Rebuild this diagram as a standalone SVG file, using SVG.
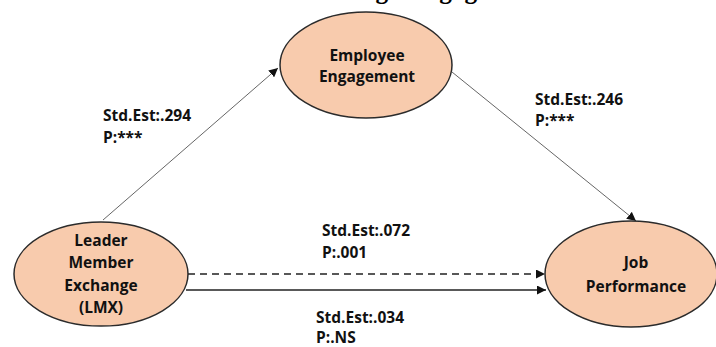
<svg xmlns="http://www.w3.org/2000/svg" width="716" height="347" viewBox="0 0 716 347">
<style>
.node{fill:#F8CBAD;stroke:#2b2b2b;stroke-width:1.5}
.nt{font-family:"Open Sans","Liberation Sans",sans-serif;font-weight:700;font-size:15.5px;fill:#111;text-anchor:middle}
.lb{font-family:"Open Sans","Liberation Sans",sans-serif;font-weight:700;font-size:15.5px;fill:#111}
.thin{stroke:#666;stroke-width:1;fill:none}
.thick{stroke:#222;stroke-width:1.5;fill:none}
.title{font-family:"Liberation Serif",serif;font-weight:700;font-size:26px;fill:#000}
</style>
<defs>
<marker id="ah" viewBox="0 0 10 10" refX="10" refY="5" markerWidth="9" markerHeight="9" markerUnits="userSpaceOnUse" orient="auto">
<path d="M0,0 L10,5 L0,10 z" fill="#111"/>
</marker>
</defs>
<rect width="716" height="347" fill="#fff"/>
<text class="title" x="15" y="-1" textLength="528" lengthAdjust="spacingAndGlyphs">Job Performance Mediated through Engagement</text>
<g id="connectors">
<line class="thin" x1="103" y1="220" x2="278" y2="68" marker-end="url(#ah)"/>
<line class="thin" x1="452" y1="72" x2="636" y2="221" marker-end="url(#ah)"/>
<line class="thick" x1="188" y1="274" x2="545" y2="274" stroke-dasharray="7,5" marker-end="url(#ah)"/>
<line class="thick" x1="186" y1="290" x2="546" y2="290" marker-end="url(#ah)"/>
</g>
<g id="engagement">
<ellipse class="node" cx="366" cy="65" rx="86" ry="53"/>
<text class="nt" x="367" y="61">Employee</text>
<text class="nt" x="367" y="82">Engagement</text>
</g>
<g id="lmx">
<ellipse class="node" cx="101" cy="274" rx="87" ry="52"/>
<text class="nt" x="101" y="246">Leader</text>
<text class="nt" x="101" y="268">Member</text>
<text class="nt" x="101" y="291">Exchange</text>
<text class="nt" x="101" y="313">(LMX)</text>
</g>
<g id="performance">
<ellipse class="node" cx="631" cy="274" rx="86" ry="53"/>
<text class="nt" x="636" y="268">Job</text>
<text class="nt" x="636" y="292">Performance</text>
</g>
<g id="labels">
<text class="lb" x="103" y="121">Std.Est:.294</text>
<text class="lb" x="103" y="143">P:***</text>
<text class="lb" x="535" y="105">Std.Est:.246</text>
<text class="lb" x="535" y="126">P:***</text>
<text class="lb" x="322" y="236">Std.Est:.072</text>
<text class="lb" x="322" y="258">P:.001</text>
<text class="lb" x="316" y="323">Std.Est:.034</text>
<text class="lb" x="316" y="343">P:.NS</text>
</g>
</svg>
